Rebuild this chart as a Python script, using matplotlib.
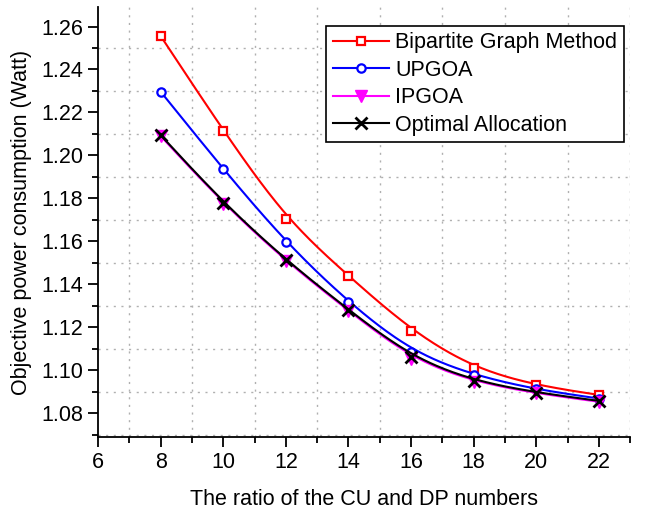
import numpy as np
import matplotlib.pyplot as plt
from matplotlib.ticker import MultipleLocator

plt.rcParams['font.family'] = ['Liberation Sans', 'DejaVu Sans']

# data
ratio = [8, 10, 12, 14, 16, 18, 20, 22]
bipartite = [1.2556, 1.2115, 1.1703, 1.1440, 1.1185, 1.1010, 1.0930, 1.0886]
upgoa = [1.2297, 1.1936, 1.1595, 1.1316, 1.1087, 1.0977, 1.0911, 1.0869]
ipgoa = [1.2090, 1.1776, 1.1508, 1.1277, 1.1055, 1.0947, 1.0893, 1.0854]
optimal = [1.2095, 1.1780, 1.1513, 1.1282, 1.1062, 1.0951, 1.0897, 1.0858]


def bspline_line(x, y, n=40):
    # cubic B-spline with the data points as control points (like Origin's B-spline connect)
    px = np.concatenate([[x[0]] * 2, x, [x[-1]] * 2]).astype(float)
    py = np.concatenate([[y[0]] * 2, y, [y[-1]] * 2]).astype(float)
    t = np.linspace(0, 1, n)
    b0 = (1 - t) ** 3 / 6
    b1 = (3 * t ** 3 - 6 * t ** 2 + 4) / 6
    b2 = (-3 * t ** 3 + 3 * t ** 2 + 3 * t + 1) / 6
    b3 = t ** 3 / 6
    xs, ys = [], []
    for i in range(len(px) - 3):
        xs.append(b0 * px[i] + b1 * px[i + 1] + b2 * px[i + 2] + b3 * px[i + 3])
        ys.append(b0 * py[i] + b1 * py[i + 1] + b2 * py[i + 2] + b3 * py[i + 3])
    return np.concatenate(xs), np.concatenate(ys)


fig = plt.figure(figsize=(6.47, 5.12), dpi=100)
ax = fig.add_axes([0.1515, 0.1465, 0.8225, 0.8395])

series = [
    ('Bipartite Graph Method', bipartite, 'red', dict(marker='s', ms=6, mfc='white', mew=1.6)),
    ('UPGOA', upgoa, 'blue', dict(marker='o', ms=6, mfc='white', mew=1.6)),
    ('IPGOA', ipgoa, 'magenta', dict(marker='v', ms=8, mfc='magenta', mew=1)),
    ('Optimal Allocation', optimal, 'black', dict(marker='x', ms=9, mew=2)),
]

handles = []
for label, vals, c, mk in series:
    xs, ys = bspline_line(ratio, vals)
    ax.plot(xs, ys, color=c, lw=1.5)
    ax.plot(ratio, vals, ls='none', color=c, mec=c, **mk)
    h, = ax.plot([], [], color=c, lw=1.5, mec=c, **mk)
    handles.append(h)

ax.set_xlim(6, 23)
ax.set_ylim(1.069, 1.269)
ax.xaxis.set_major_locator(MultipleLocator(2))
ax.xaxis.set_minor_locator(MultipleLocator(1))
ax.yaxis.set_major_locator(MultipleLocator(0.02))
ax.yaxis.set_minor_locator(MultipleLocator(0.01))
ax.yaxis.set_major_formatter(plt.FormatStrFormatter('%.2f'))

ax.grid(which='minor', color='#b0b0b0', ls=(0, (1.5, 4)), lw=1)
ax.tick_params(which='major', direction='out', length=7, width=1.3, labelsize=15.5)
ax.tick_params(which='minor', direction='out', length=4, width=1.3)
for s in ['top', 'right']:
    ax.spines[s].set_visible(False)
for s in ['left', 'bottom']:
    ax.spines[s].set_linewidth(1.3)

ax.set_xlabel('The ratio of the CU and DP numbers', fontsize=15.5, labelpad=12)
ax.set_ylabel('Objective power consumption (Watt)', fontsize=15.5, labelpad=7)

leg = ax.legend(handles, [s[0] for s in series], loc='upper right',
                bbox_to_anchor=(1.008, 0.982), fontsize=15.5, handlelength=2.6,
                labelspacing=0.3, borderpad=0.3, handletextpad=0.3,
                fancybox=False, edgecolor='black', framealpha=1)
leg.get_frame().set_linewidth(1.2)

fig.savefig('out.png', dpi=100)
